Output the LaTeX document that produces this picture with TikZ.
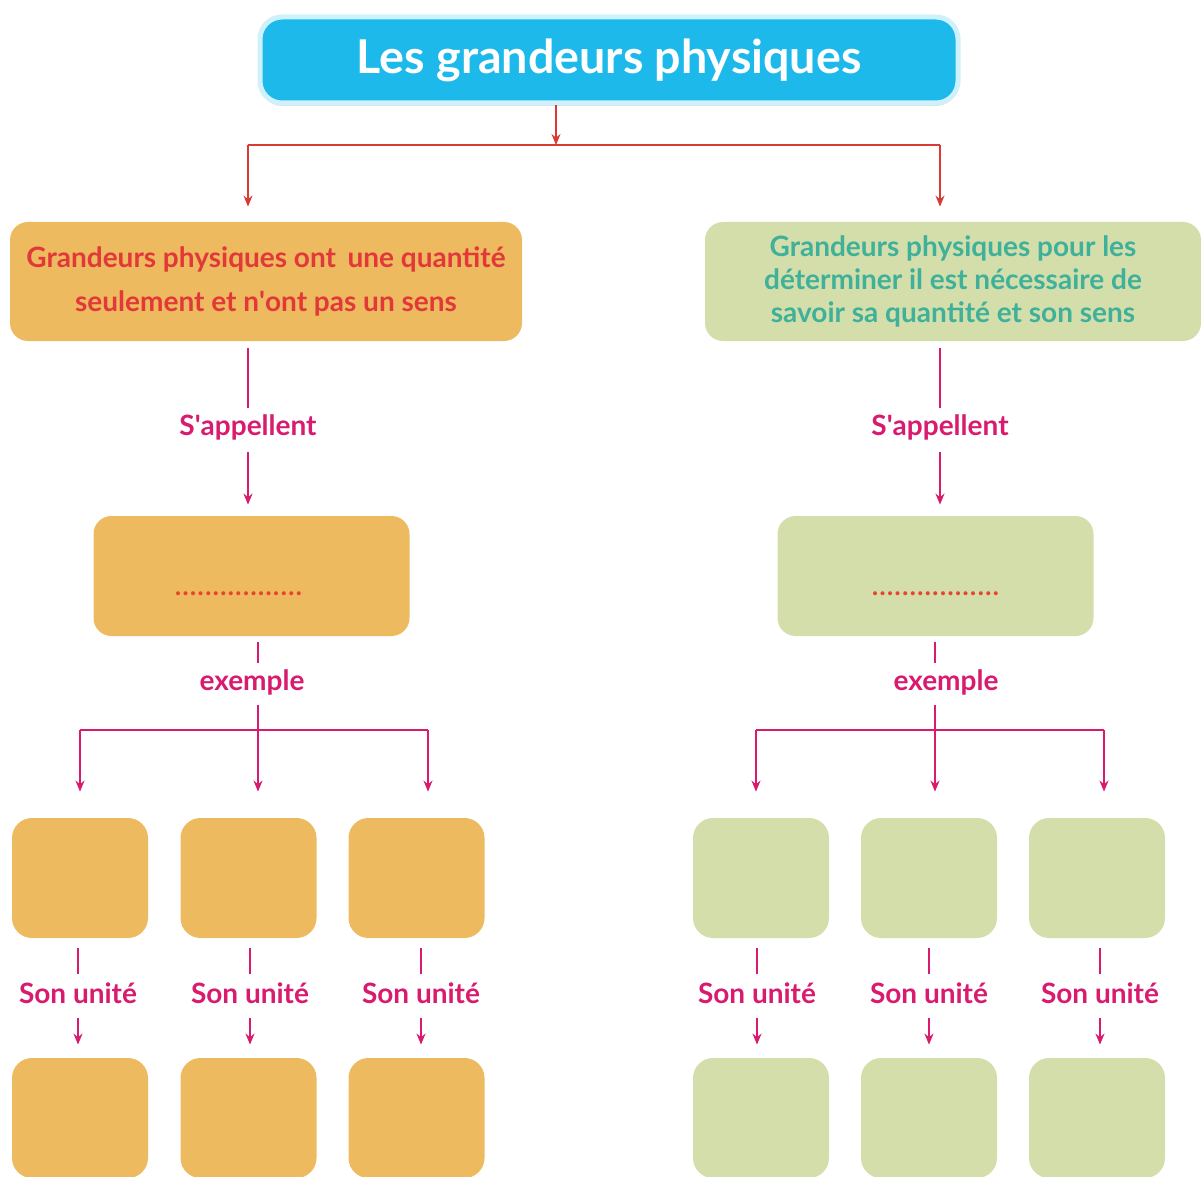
\documentclass[tikz,border=0pt]{standalone}
\usepackage{fontspec}
\setmainfont{Lato}
\usetikzlibrary{positioning,calc,arrows.meta,shadows}
\definecolor{titleCyan}{HTML}{1DB9EA}
\definecolor{titleGlow}{HTML}{CFF1FB}
\definecolor{scalOrange}{HTML}{EDBA5F}
\definecolor{vecGreen}{HTML}{D3DEAB}
\definecolor{scalRed}{HTML}{E2383A}
\definecolor{vecTeal}{HTML}{3FB09A}
\definecolor{linkMagenta}{HTML}{D81B6E}
\definecolor{topRed}{HTML}{D93A33}
\definecolor{dotRed}{HTML}{E8452C}

\begin{document}
\begin{tikzpicture}[x=0.5pt,y=-0.5pt,
  titlebox/.style={fill=titleCyan,draw=titleGlow,line width=2.5pt,rounded corners=11pt,
    minimum width=349pt,minimum height=43pt,text=white,
    font=\bfseries\fontsize{23.3}{27}\selectfont,
    drop shadow={shadow xshift=0pt,shadow yshift=-1.5pt,opacity=.25,fill=gray}},
  bigbox/.style={rounded corners=9pt,inner sep=0pt,minimum height=59.5pt,align=center,
    font=\bfseries\fontsize{14}{23}\selectfont},
  midbox/.style={rounded corners=9pt,inner sep=0pt,minimum width=158pt,minimum height=60pt,
    text=dotRed,font=\fontsize{16}{18}\selectfont},
  smallbox/.style={rounded corners=10pt,minimum width=68pt,minimum height=60pt},
  linklabel/.style={inner sep=0pt,text=linkMagenta,font=\bfseries\fontsize{14}{16}\selectfont},
  toplink/.style={topRed,line width=0.75pt},
  maglink/.style={linkMagenta,line width=0.9pt},
  tip/.style={-{Stealth[length=5.5pt,width=4.5pt]}}]
  \useasboundingbox (0,0) rectangle (1201,1177);

  % title
  \node[titlebox] (title) at (609,60) {Les grandeurs physiques};
  \coordinate (split) at (556,145);
  \coordinate (lcol) at (248,145);
  \coordinate (rcol) at (940,145);
  \draw[toplink,tip] (title.south -| split) -- (split);
  \draw[toplink] (lcol) -- (rcol);

  % scalar branch
  \node[bigbox,fill=scalOrange,text=scalRed,minimum width=256pt] (lq) at (266,281.5)
    {Grandeurs physiques ont\, une quantité\\[-1pt] seulement et n\textquotesingle ont pas un sens};
  \node[linklabel] (lcall) at (248,427) {S\textquotesingle appellent};
  \node[midbox,fill=scalOrange] (lmid) at (251.5,576) {\raisebox{-20pt}{.................}\kern13pt};
  \node[linklabel] (lex) at (252,682) {exemple};
  \coordinate (lfork) at (258,730);
  \coordinate (lfa) at (80,730);
  \coordinate (lfc) at (428,730);

  % vector branch
  \node[bigbox,fill=vecGreen,text=vecTeal,minimum width=248pt,
    font=\bfseries\fontsize{14}{16.5}\selectfont] (rq) at (953,281.5)
    {Grandeurs physiques pour les\\ déterminer il est nécessaire de\\ savoir sa quantité et son sens};
  \node[linklabel] (rcall) at (940,427) {S\textquotesingle appellent};
  \node[midbox,fill=vecGreen] (rmid) at (935.5,576) {\raisebox{-20pt}{.................}};
  \node[linklabel] (rex) at (946,682) {exemple};
  \coordinate (rfork) at (935,730);
  \coordinate (rfa) at (756,730);
  \coordinate (rfc) at (1104,730);

  \draw[toplink,tip,shorten >=7.5pt] (lcol) -- (lcol |- lq.north);
  \draw[toplink,tip,shorten >=7.5pt] (rcol) -- (rcol |- rq.north);

  % call and example links
  \foreach \q/\c/\m/\e/\f/\a/\z in {lq/lcall/lmid/lex/lfork/lfa/lfc,rq/rcall/rmid/rex/rfork/rfa/rfc}{
    \draw[maglink,shorten <=3.5pt,shorten >=3pt] (\q.south -| \c) -- (\c);
    \draw[maglink,tip,shorten <=6pt,shorten >=5.5pt] (\c) -- (\c |- \m.north);
    \draw[maglink,shorten <=3pt,shorten >=3pt] (\m.south -| \f) -- (\f |- \e.north);
    \draw[maglink,shorten <=5pt] (\f |- \e.south) -- (\f);
    \draw[maglink] (\a) -- (\z);
  }

  % unit rows
  \foreach \n/\x/\u/\col in {la/80/78/scalOrange,lb/248.5/250/scalOrange,lc/416.5/421/scalOrange,
                         ra/761/757/vecGreen,rb/929/929/vecGreen,rc/1097/1100/vecGreen}{
    \node[smallbox,fill=\col] (\n) at (\x,878) {};
    \node[linklabel] (\n unit) at (\u,993) {Son unité};
    \node[smallbox,fill=\col] (\n val) at (\x,1118) {};
    \draw[maglink,shorten <=5pt,shorten >=4pt] (\n.south -| \n unit) -- (\n unit);
    \draw[maglink,tip,shorten <=7pt,shorten >=6.5pt] (\n unit) -- (\n unit |- \n val.north);
  }

  % example arrows
  \foreach \f/\n in {lfa/la,lfork/lb,lfc/lc,rfa/ra,rfork/rb,rfc/rc}
    \draw[maglink,tip,shorten >=13pt] (\f) -- (\f |- \n.north);
\end{tikzpicture}
\end{document}
